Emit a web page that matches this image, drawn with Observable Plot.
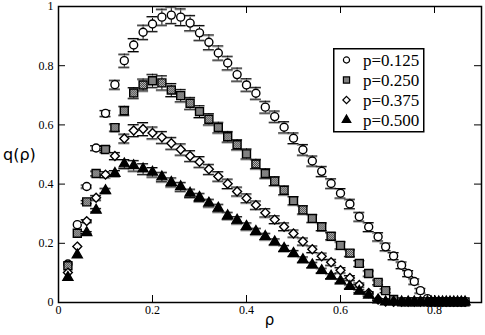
<!DOCTYPE html>
<html><head><meta charset="utf-8">
<script src="https://cdn.jsdelivr.net/npm/d3@7"></script>
<script src="https://cdn.jsdelivr.net/npm/@observablehq/plot@0.6"></script>
<style>
body{margin:0;background:#fff;}
#wrap{position:relative;width:485px;height:335px;overflow:hidden;}
#legend{position:absolute;left:333px;top:48px;}
#wrap svg text.tk{font-family:"Liberation Serif","Times New Roman",serif !important;font-size:12px !important;}
</style></head><body><div id="wrap"></div>
<script>
// density values (x positions of the points)
const rho = [0.02,0.04,0.06,0.08,0.10,0.12,0.14,0.16,0.18,0.20,0.22,0.24,0.26,0.28,0.30,0.32,0.34,
  0.36,0.38,0.40,0.42,0.44,0.46,0.48,0.50,0.52,0.54,0.56,0.58,0.60,0.62,0.64,0.66,0.68,
  0.696,0.713,0.730,0.744,0.757,0.770,0.785,0.793,0.801,0.809,0.817,0.825,0.833,0.841,0.849,0.857,0.865];

const labels = ["p=0.125","p=0.250","p=0.375","p=0.500"];

const q125 = [0.130,0.263,0.392,0.522,0.639,0.736,0.817,0.870,0.913,0.941,0.964,0.971,0.964,0.944,0.911,0.879,0.843,
  0.809,0.770,0.735,0.707,0.660,0.628,0.592,0.555,0.516,0.478,0.443,0.402,0.369,0.333,0.290,0.255,0.222,
  0.188,0.157,0.126,0.098,0.071,0.040,0.013,0.002,0.002,0.002,0.002,0.002,0.002,0.002,0.002,0.002,0.002];
const e125 = [0,0,0.005,0.008,0.010,0.015,0.022,0.022,0.024,0.025,0.027,0.028,0.028,0.026,0.025,0.025,0.024,
  0.023,0.022,0.021,0.020,0.020,0.019,0.019,0.018,0.018,0.017,0.017,0.016,0.016,0.016,0.015,0.015,0.014,
  0.013,0.012,0.011,0.010,0.009,0.008,0.004,0,0,0,0,0,0,0,0,0,0];

const q250 = [0.124,0.234,0.340,0.436,0.517,0.591,0.648,0.708,0.735,0.749,0.742,0.718,0.699,0.673,0.645,0.619,0.591,
  0.560,0.533,0.502,0.468,0.436,0.410,0.379,0.344,0.313,0.284,0.256,0.224,0.193,0.167,0.132,0.098,0.068,
  0.040,0.010,0.002,0.002,0.002,0.002,0.002,0.002,0.002,0.002,0.002,0.002,0.002,0.002,0.002,0.002,0.002];
const e250 = [0,0,0.005,0.008,0.010,0.012,0.015,0.018,0.020,0.022,0.024,0.022,0.021,0.020,0.020,0.019,0.018,
  0.018,0.017,0.017,0.016,0.016,0.015,0.015,0.014,0.014,0.013,0.013,0.012,0.012,0.011,0.010,0.009,0.008,
  0.006,0.003,0,0,0,0,0,0,0,0,0,0,0,0,0,0,0];

const q375 = [0.101,0.189,0.275,0.354,0.432,0.495,0.554,0.581,0.586,0.573,0.558,0.538,0.517,0.495,0.475,0.450,0.426,
  0.401,0.375,0.352,0.329,0.303,0.280,0.256,0.233,0.206,0.180,0.156,0.136,0.109,0.083,0.059,0.032,0.010,
  0.003,0.002,0.002,0.002,0.002,0.002,0.002,0.002,0.002,0.002,0.002,0.002,0.002,0.002,0.002,0.002,0.002];
const e375 = [0,0,0.005,0.008,0.010,0.012,0.015,0.020,0.022,0.020,0.020,0.020,0.019,0.018,0.018,0.017,0.016,
  0.016,0.015,0.015,0.014,0.014,0.013,0.013,0.012,0.012,0.011,0.011,0.010,0.009,0.008,0.007,0.005,0.003,
  0,0,0,0,0,0,0,0,0,0,0,0,0,0,0,0,0];

const q500 = [0.085,0.161,0.236,0.312,0.378,0.436,0.468,0.462,0.451,0.440,0.424,0.406,0.391,0.369,0.355,0.336,0.319,
  0.293,0.278,0.257,0.240,0.223,0.205,0.183,0.166,0.145,0.127,0.108,0.089,0.073,0.054,0.038,0.025,0.009,
  0.002,0.002,0.002,0.002,0.002,0.002,0.002,0.002,0.002,0.002,0.002,0.002,0.002,0.002,0.002,0.002,0.002];
const e500 = [0,0,0.004,0.006,0.008,0.010,0.015,0.018,0.018,0.016,0.016,0.015,0.015,0.014,0.014,0.013,0.013,
  0.012,0.012,0.012,0.011,0.011,0.010,0.010,0.010,0.009,0.009,0.008,0.008,0.007,0.006,0.005,0.004,0.003,
  0,0,0,0,0,0,0,0,0,0,0,0,0,0,0,0,0];

const xTicks = [0,0.2,0.4,0.6,0.8];
const yTicks = [0,0.2,0.4,0.6,0.8,1];

const seriesQ = [q125,q250,q375,q500];
const seriesE = [e125,e250,e375,e500];
const symbols = ["circle","square","diamond2","triangle"];
const fills = ["white","url(#chk)","white","black"];
const radii = [4,4.5,4,3.7];

const W = 485, H = 335, mL = 58, mR = 4, mT = 6, mB = 33;
const innerW = W - mL - mR, innerH = H - mT - mB;
const tick = 7;
const serif = "'Liberation Serif', 'Times New Roman', serif";
const sans = "'DejaVu Sans', sans-serif";

const marks = [];
seriesQ.forEach((qs, i) => {
  const d = rho.map((r, j) => ({rho: r, q: qs[j], e: seriesE[i][j]}));
  const de = d.filter(o => o.e > 0);
  marks.push(Plot.ruleX(de, {x: "rho", y1: o => o.q - o.e, y2: o => o.q + o.e, stroke: "#000", strokeWidth: 1}));
  for (const sgn of [1, -1]) {
    marks.push(Plot.ruleY(de, {y: o => o.q + sgn*o.e, x1: "rho", x2: "rho", insetLeft: -5.5, insetRight: -5.5, dy: 1, stroke: "#999", strokeWidth: 1}));
    marks.push(Plot.ruleY(de, {y: o => o.q + sgn*o.e, x1: "rho", x2: "rho", insetLeft: -5.5, insetRight: -5.5, stroke: "#000", strokeWidth: 1}));
  }
  marks.push(Plot.dot(d, {x: "rho", y: "q", symbol: symbols[i], r: radii[i], fill: fills[i], stroke: "#000", strokeWidth: 1.4}));
});

const chart = Plot.plot({
  width: W, height: H,
  marginLeft: mL, marginRight: mR, marginTop: mT, marginBottom: mB,
  style: {fontFamily: serif, fontSize: "12px", background: "white", color: "#000", overflow: "visible"},
  x: {domain: [0, 0.9]},
  y: {domain: [0, 1]},
  marks: [
    ...marks,
    Plot.ruleX(xTicks, {x: d => d, insetTop: innerH - tick, stroke: "#000"}),
    Plot.ruleX(xTicks, {x: d => d, insetBottom: innerH - tick, stroke: "#000"}),
    Plot.ruleY(yTicks, {y: d => d, insetRight: innerW - tick, stroke: "#000"}),
    Plot.ruleY(yTicks, {y: d => d, insetLeft: innerW - tick, stroke: "#000"}),
    Plot.axisX({ticks: xTicks, tickSize: 0, tickPadding: 3, tickFormat: d3.format("~g"), label: null}),
    Plot.axisY({ticks: yTicks, tickSize: 0, tickPadding: 5, tickFormat: d3.format("~g"), label: null}),
    Plot.frame({stroke: "#000", strokeWidth: 1.5})
  ]
});

const svg = d3.select(chart);
// force serif on tick labels
svg.selectAll("text").classed("tk", true).style("font-family", serif).style("font-size", "12px");
svg.selectAll("g").filter(function(){ return this.getAttribute("font-family"); }).attr("font-family", serif);

const defs = svg.insert("defs", ":first-child");
const pat = defs.append("pattern").attr("id", "chk").attr("width", 2).attr("height", 2).attr("patternUnits", "userSpaceOnUse");
pat.append("rect").attr("width", 2).attr("height", 2).attr("fill", "#3a3a3a");
pat.append("rect").attr("width", 1).attr("height", 1).attr("fill", "#c8c8c8");
pat.append("rect").attr("x", 1).attr("y", 1).attr("width", 1).attr("height", 1).attr("fill", "#c8c8c8");

// axis titles
svg.append("text").attr("x", mL + innerW/2).attr("y", 325).attr("text-anchor", "middle")
  .style("font-family", sans).style("font-size", "15px").attr("fill", "#000").text("ρ");
svg.append("text").attr("x", 3).attr("y", 160).attr("text-anchor", "start")
  .style("font-family", sans).style("font-size", "16px").attr("fill", "#000").text("q(ρ)");

const wrap = document.getElementById("wrap");
wrap.appendChild(chart);

// legend
const lg = d3.select(wrap).append("div").attr("id", "legend")
  .append("svg").attr("width", 92).attr("height", 85);
lg.append("rect").attr("x", 0.75).attr("y", 0.75).attr("width", 90).attr("height", 83)
  .attr("fill", "white").attr("stroke", "#000").attr("stroke-width", 1.5);
const lsym = [d3.symbolCircle, d3.symbolSquare, d3.symbolDiamond2, d3.symbolTriangle];
const lsize = [30, 38, 34, 32];
labels.forEach((lab, i) => {
  const cy = 12 + i*20;
  lg.append("path").attr("d", d3.symbol(lsym[i], lsize[i])())
    .attr("transform", `translate(13.5,${cy})`)
    .attr("fill", i === 1 ? "url(#chk)" : fills[i]).attr("stroke", "#000").attr("stroke-width", 1.2);
  lg.append("text").attr("x", 30).attr("y", cy + 6).style("font-family", serif)
    .style("font-size", "17px").attr("fill", "#000").text(lab);
});
</script></body></html>
